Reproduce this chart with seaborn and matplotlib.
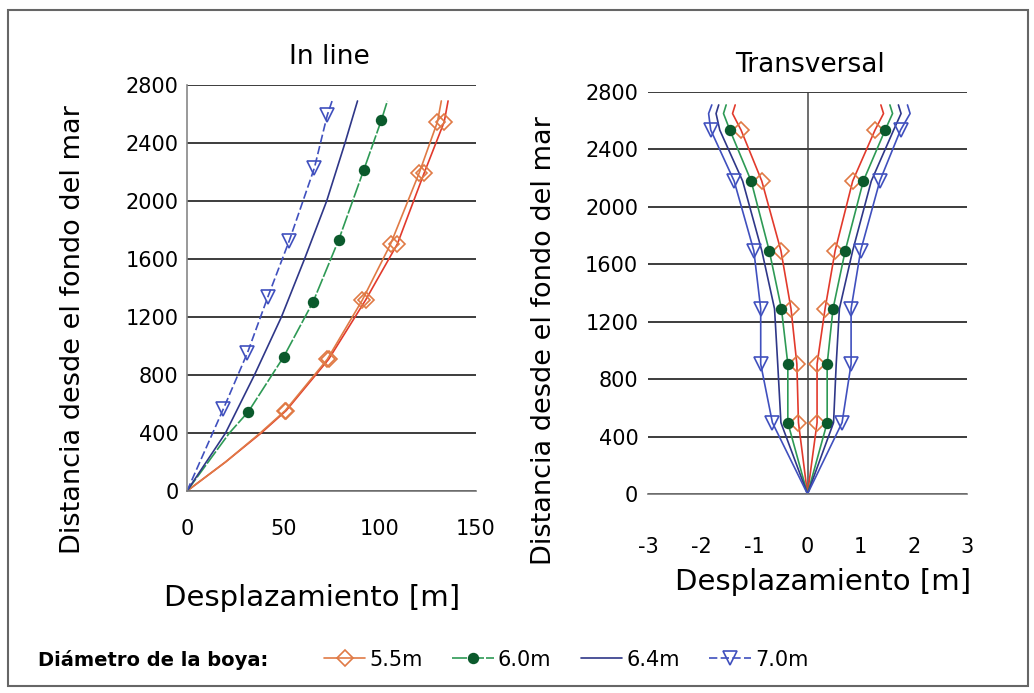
import matplotlib
matplotlib.use('Agg')
import matplotlib.pyplot as plt
import seaborn as sns
from matplotlib.patches import Rectangle

# -----------------------------
# In line panel: desplazamiento [m] vs distancia [m]
# -----------------------------
inl_55a_y = [0, 200, 400, 555, 908, 1317, 1704, 2193, 2546, 2690]
inl_55a_x = [0, 20, 38, 51.0, 72.8, 91.0, 105.7, 120.5, 130.0, 132.0]
inl_55b_y = [0, 200, 400, 555, 908, 1317, 1704, 2193, 2546, 2690]
inl_55b_x = [0, 20, 38.5, 51.5, 73.5, 92.7, 109.2, 123.1, 133.5, 135.5]
inl_60_y = [0, 200, 400, 548, 926, 1306, 1734, 2216, 2558, 2690]
inl_60_x = [0, 11, 22, 31.9, 50.2, 65.5, 78.8, 91.8, 100.9, 104.0]
inl_64_y = [0, 400, 800, 1200, 1600, 2000, 2400, 2690]
inl_64_x = [0, 20, 35, 49, 61, 72.5, 82, 88.5]
inl_70_y = [0, 567, 954, 1340, 1727, 2227, 2592, 2690]
inl_70_x = [0, 18.9, 31.4, 42.0, 53.1, 66.1, 72.8, 75.3]

# -----------------------------
# Transversal panel: both sides of each buoy
# -----------------------------
tr_y = [0, 497, 905, 1290, 1695, 2180, 2535, 2650, 2710]
tr_55_right = [0, 0.18, 0.18, 0.33, 0.52, 0.85, 1.27, 1.43, 1.38]
tr_55_left = [0, -0.17, -0.20, -0.31, -0.50, -0.86, -1.25, -1.41, -1.36]
tr_60_right = [0, 0.37, 0.37, 0.48, 0.71, 1.05, 1.46, 1.60, 1.55]
tr_60_left = [0, -0.37, -0.37, -0.49, -0.72, -1.06, -1.46, -1.58, -1.53]
tr_64_right = [0, 0.49, 0.54, 0.60, 0.85, 1.20, 1.62, 1.76, 1.71]
tr_64_left = [0, -0.50, -0.56, -0.62, -0.86, -1.22, -1.65, -1.72, -1.67]
tr_70_right = [0, 0.65, 0.82, 0.82, 1.00, 1.36, 1.75, 1.93, 1.88]
tr_70_left = [0, -0.66, -0.88, -0.88, -1.01, -1.38, -1.82, -1.86, -1.80]

diam_labels = ['5.5m', '6.0m', '6.4m', '7.0m']
yticks = [0, 400, 800, 1200, 1600, 2000, 2400, 2800]

c_orange = '#E07A45'
c_red = '#E23A2C'
c_green = '#2E9A55'
c_dgreen = '#0B5A2C'
c_navy = '#2F3788'
c_blue = '#4050BE'

sns.set_style('white')
plt.rcParams['font.family'] = ['DejaVu Sans']
plt.rcParams['axes.unicode_minus'] = False
plt.rcParams['text.color'] = 'black'

fig = plt.figure(figsize=(10.34, 6.93), dpi=100)
ax1 = fig.add_axes([187 / 1034, 1 - 491 / 693, 289 / 1034, 406 / 693])
ax2 = fig.add_axes([648 / 1034, 1 - 494 / 693, 319 / 1034, 402 / 693])


def draw(ax, x, y, color, marker=None, idx=None, ls='-', mfc='none', mec=None, ms=8, label=None):
    kws = dict(color=color, lw=1.2, linestyle=ls)
    if marker:
        kws.update(marker=marker, markevery=idx, markerfacecolor=mfc,
                   markeredgecolor=mec or color, markersize=ms, markeredgewidth=1.2)
    sns.lineplot(x=x, y=y, ax=ax, sort=False, estimator=None, label=label, **kws)


dash70 = (0, (5, 2))
dash60 = (0, (9, 1.2))

# in line
draw(ax1, inl_55b_x, inl_55b_y, c_red, 'D', [3, 4, 5, 6, 7, 8], ms=8, mec=c_orange)
draw(ax1, inl_55a_x, inl_55a_y, c_orange, 'D', [3, 4, 5, 6, 7, 8], ms=8, label=diam_labels[0])
draw(ax1, inl_60_x, inl_60_y, c_green, 'o', [3, 4, 5, 6, 7, 8], ls=dash60,
     mfc=c_dgreen, mec=c_dgreen, ms=7, label=diam_labels[1])
draw(ax1, inl_64_x, inl_64_y, c_navy, label=diam_labels[2])
draw(ax1, inl_70_x, inl_70_y, c_blue, 'v', [1, 2, 3, 4, 5, 6], ls=dash70, ms=10,
     label=diam_labels[3])

# transversal
mk = [1, 2, 3, 4, 5, 6]
for xs in (tr_55_right, tr_55_left):
    draw(ax2, xs, tr_y, c_red, 'D', mk, ms=8, mec=c_orange)
for xs in (tr_60_right, tr_60_left):
    draw(ax2, xs, tr_y, c_green, 'o', mk, mfc=c_dgreen, mec=c_dgreen, ms=7)
for xs in (tr_64_right, tr_64_left):
    draw(ax2, xs, tr_y, c_navy)
for xs in (tr_70_right, tr_70_left):
    draw(ax2, xs, tr_y, c_blue, 'v', mk, ms=10)

handles, labels = ax1.get_legend_handles_labels()
for ax in (ax1, ax2):
    if ax.get_legend() is not None:
        ax.get_legend().remove()

grid_c = '#3c3c3c'
for ax in (ax1, ax2):
    ax.set_ylim(0, 2800)
    ax.set_yticks(yticks)
    ax.yaxis.grid(True, color=grid_c, lw=1.4)
    ax.xaxis.grid(False)
    ax.set_axisbelow(True)
    for s in ('top', 'right'):
        ax.spines[s].set_visible(False)
    ax.spines['bottom'].set_color('#777777')
    ax.spines['bottom'].set_linewidth(1.2)
    ax.set_xlabel('')
    ax.set_ylabel('')
    ax.tick_params(labelsize=15, labelcolor='black')

ax1.set_xlim(0, 150)
ax1.set_xticks([0, 50, 100, 150])
ax1.spines['left'].set_color('#888888')
ax1.spines['left'].set_linewidth(1.2)
ax1.tick_params(axis='y', direction='out', length=4, width=1, color='#777777', pad=2)
ax1.tick_params(axis='x', direction='inout', length=6, width=1, color='#777777', pad=17)

ax2.set_xlim(-3, 3)
ax2.set_xticks([-3, -2, -1, 0, 1, 2, 3])
ax2.spines['left'].set_visible(False)
ax2.axvline(0, color='#555555', lw=1.2, zorder=0.5)
ax2.tick_params(axis='y', length=0, pad=7)
ax2.tick_params(axis='x', direction='inout', length=6, width=1, color='#777777', pad=28)

fig.text(0.319, 0.918, 'In line', ha='center', va='center', fontsize=19)
fig.text(0.783, 0.906, 'Transversal', ha='center', va='center', fontsize=19)
ylab = 'Distancia desde el fondo del mar'
fig.text(0.0706, 0.524, ylab, rotation=90, ha='center', va='center', fontsize=19.5)
fig.text(0.526, 0.509, ylab, rotation=90, ha='center', va='center', fontsize=19.5)
fig.text(0.302, 0.137, 'Desplazamiento [m]', ha='center', va='center', fontsize=21)
fig.text(0.796, 0.160, 'Desplazamiento [m]', ha='center', va='center', fontsize=21)

fig.text(0.037, 0.048, 'Diámetro de la boya:', ha='left', va='center', fontsize=14,
         fontweight='bold')
fig.legend(handles, labels, loc='center left', bbox_to_anchor=(0.305, 0.048), ncol=4,
           frameon=False, fontsize=15, handlelength=2.0, handletextpad=0.2,
           columnspacing=1.4, borderaxespad=0)

fig.patches.append(Rectangle((0.008, 0.01), 0.986, 0.975, transform=fig.transFigure,
                             fill=False, edgecolor='#666666', lw=1.5))

fig.savefig('out.png', dpi=100)
